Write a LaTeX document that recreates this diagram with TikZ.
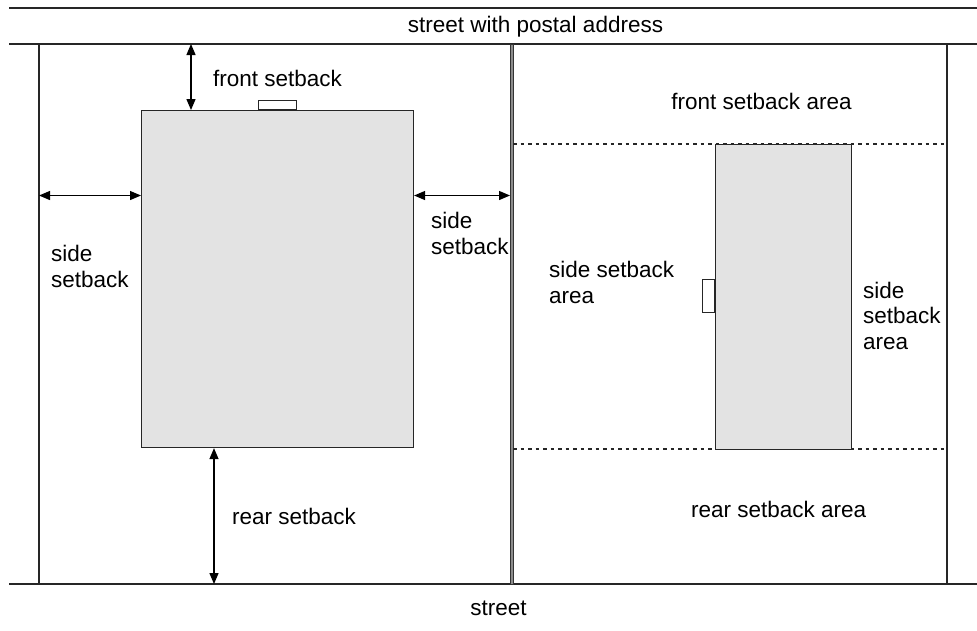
\documentclass[tikz,border=0pt]{standalone}
\usepackage{fontspec}
\setmainfont{Liberation Sans}
\usetikzlibrary{arrows.meta}
\begin{document}
\begin{tikzpicture}[x=1pt,y=-1pt,
  lineblk/.style={draw=black!85,line width=1.3pt},
  thinblk/.style={draw=black!85,line width=1.1pt},
  house/.style={draw=black!85,line width=1.1pt,fill=black!11},
  doorbox/.style={draw=black!85,line width=1.1pt,fill=white},
  dimarrow/.style={draw=black,line width=1.3pt,{Triangle[length=11pt,width=9pt]}-{Triangle[length=11pt,width=9pt]}},
  dotline/.style={draw=black!85,line width=1.1pt,dash pattern=on 3.5pt off 4pt},
  lbl/.style={font=\fontsize{22.5}{25.5}\selectfont,inner sep=0pt,anchor=base west,align=left}]
\useasboundingbox (0,0) rectangle (977,630);
% streets and lot lines
\coordinate (tl) at (9,8);   \coordinate (tr) at (977,8);
\coordinate (ml) at (9,44);  \coordinate (mr) at (977,44);
\coordinate (bl) at (9,584); \coordinate (br) at (977,584);
\draw[lineblk] (tl) -- (tr);
\draw[lineblk] (ml) -- (mr);
\draw[lineblk] (bl) -- (br);
\coordinate (lt) at (39,44); \coordinate (lb) at (39,584);
\draw[thinblk] (lt) -- (lb);
\coordinate (rt) at (947,44); \coordinate (rb) at (947,584);
\draw[thinblk] (rt) -- (rb);
\draw[draw=black!80,line width=0.9pt,fill=black!45] (510,44) rectangle (513.5,584);
% left lot building
\node[house,minimum width=272pt,minimum height=337pt,inner sep=0pt,anchor=north west] (bA) at (141,110) {};
\node[doorbox,minimum width=38pt,minimum height=9pt,inner sep=0pt,anchor=south west] (dA) at (258,110) {};
% right lot
\coordinate (fl) at (513,144); \coordinate (fr) at (947,144);
\coordinate (rl) at (513,449); \coordinate (rr) at (947,449);
\draw[dotline] (fl) -- (fr);
\draw[dotline] (rl) -- (rr);
\node[house,minimum width=136pt,minimum height=305pt,inner sep=0pt,anchor=north west] (bB) at (715,144) {};
\node[doorbox,minimum width=12pt,minimum height=33pt,inner sep=0pt,anchor=north east] (dB) at (715,279) {};
% dimension arrows
\coordinate (fa) at (191,44);
\draw[dimarrow] (fa) -- (fa |- bA.north);
\coordinate (sa) at (39,195.5);
\draw[dimarrow] (sa) -- (sa -| bA.west);
\coordinate (sb) at (510,195.5);
\draw[dimarrow] (sb -| bA.east) -- (sb);
\coordinate (ra) at (214,584);
\draw[dimarrow] (ra |- bA.south) -- (ra);
% labels
\node[lbl,anchor=base] (t1) at (535.5,32) {street with postal address};
\node[lbl] (t2) at (213,86) {front setback};
\node[lbl] (t3) at (51,287) {side\\setback};
\node[lbl] (t4) at (431,254) {side\\setback};
\node[lbl] (t5) at (549,303) {side setback\\area};
\node[lbl,anchor=base] (t6) at (761.5,109) {front setback area};
\node[lbl] (t7) at (863,349) {side\\setback\\area};
\node[lbl] (t8) at (232,524) {rear setback};
\node[lbl] (t9) at (691,517) {rear setback area};
\node[lbl,anchor=base] (t10) at (498.5,615) {street};
\end{tikzpicture}
\end{document}
